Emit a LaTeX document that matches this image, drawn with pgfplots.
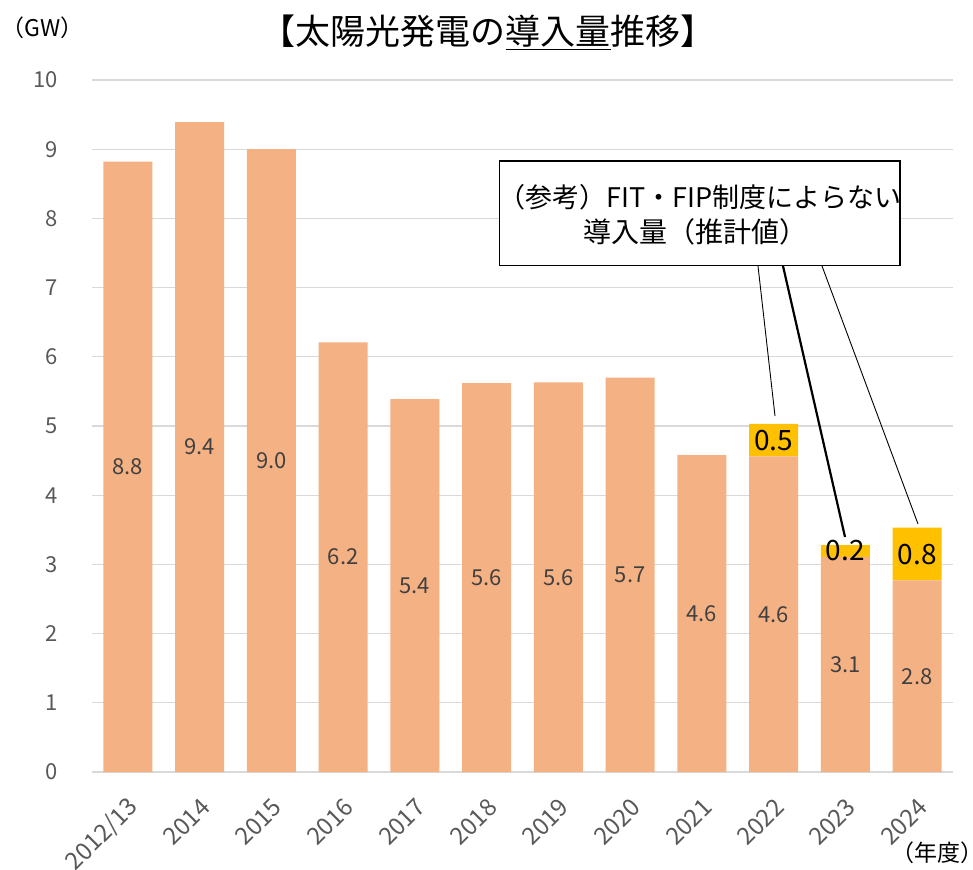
\documentclass[border=0pt]{standalone}
\usepackage{fontspec}
\setmainfont{Noto Sans CJK JP}
\usepackage{pgfplots}
\usepackage{pgfplotstable}
\pgfplotsset{compat=1.18}
\definecolor{barorange}{HTML}{F4B183}
\definecolor{baryellow}{HTML}{FFC000}
\definecolor{gridgray}{HTML}{D9D9D9}
\definecolor{ticktext}{HTML}{595959}
\definecolor{labtext}{HTML}{404040}

\pgfplotstableread[col sep=comma]{
x,fit,fitlab,ref,reflab
0,8.82,8.8,0,
1,9.39,9.4,0,
2,9.00,9.0,0,
3,6.21,6.2,0,
4,5.39,5.4,0,
5,5.62,5.6,0,
6,5.63,5.6,0,
7,5.70,5.7,0,
8,4.58,4.6,0,
9,4.56,4.6,0.47,0.5
10,3.11,3.1,0.17,0.2
11,2.77,2.8,0.76,0.8
}\datatable

\begin{document}
\begin{tikzpicture}[x=1pt,y=1pt]
\useasboundingbox (0,0) rectangle (973,-869);
\begin{axis}[
  at={(92pt,-772pt)}, anchor=south west,
  scale only axis, width=861pt, height=692pt,
  xmin=-0.5, xmax=11.5, ymin=0, ymax=10,
  ybar stacked, bar width=49pt,
  xtick={0,...,11},
  xticklabels={2012/13,2014,2015,2016,2017,2018,2019,2020,2021,2022,2023,2024},
  ytick={0,...,10},
  ymajorgrids, grid style={gridgray, line width=1.3pt},
  axis lines*=left,
  y axis line style={draw=none},
  x axis line style={gridgray, line width=1.3pt},
  major tick length=0pt,
  /pgf/number format/assume math mode=true,
  tick label style={text=ticktext},
  yticklabel style={anchor=east, inner sep=0pt, font=\fontsize{22}{26}\selectfont},
  yticklabel shift=34pt,
  xticklabel style={xshift=6pt, rotate=45, anchor=east, inner sep=0pt, font=\fontsize{24}{28}\selectfont},
  xticklabel shift=31pt,
]
\addplot[fill=barorange, draw=none,
  nodes near coords, point meta=explicit symbolic,
  every node near coord/.append style={anchor=center, text=labtext,
    font=\fontsize{22}{26}\selectfont}]
  table[x=x, y=fit, meta=fitlab]{\datatable};
\addplot[fill=baryellow, draw=none,
  nodes near coords, point meta=explicit symbolic,
  every node near coord/.append style={anchor=center, text=black,
    font=\fontsize{28}{32}\selectfont}]
  table[x=x, y=ref, meta=reflab]{\datatable};
\end{axis}
% title and unit labels
\node[anchor=base, font=\fontsize{35}{40}\selectfont] at (488,-45) {【太陽光発電の\underline{導入量}推移】};
\node[anchor=west, font=\fontsize{23}{27}\selectfont, text=black] at (-2,-28) {（GW）};
\node[anchor=center, font=\fontsize{23}{27}\selectfont, text=black] at (937,-853) {（年度）};
% callout
\draw[black, line width=1.3pt, fill=white] (499.5,-161) rectangle (900,-265.7);
\node[anchor=center, font=\fontsize{27}{32}\selectfont] at (700,-197) {（参考）FIT・FIP制度によらない};
\node[anchor=center, font=\fontsize{28}{32}\selectfont] at (695,-232) {導入量（推計値）};
\draw[black, line width=0.9pt] (758,-266) -- (775,-416);
\draw[black, line width=2.2pt] (783,-266) -- (845,-537);
\draw[black, line width=0.9pt] (822,-266) -- (918,-524);
\end{tikzpicture}
\end{document}
